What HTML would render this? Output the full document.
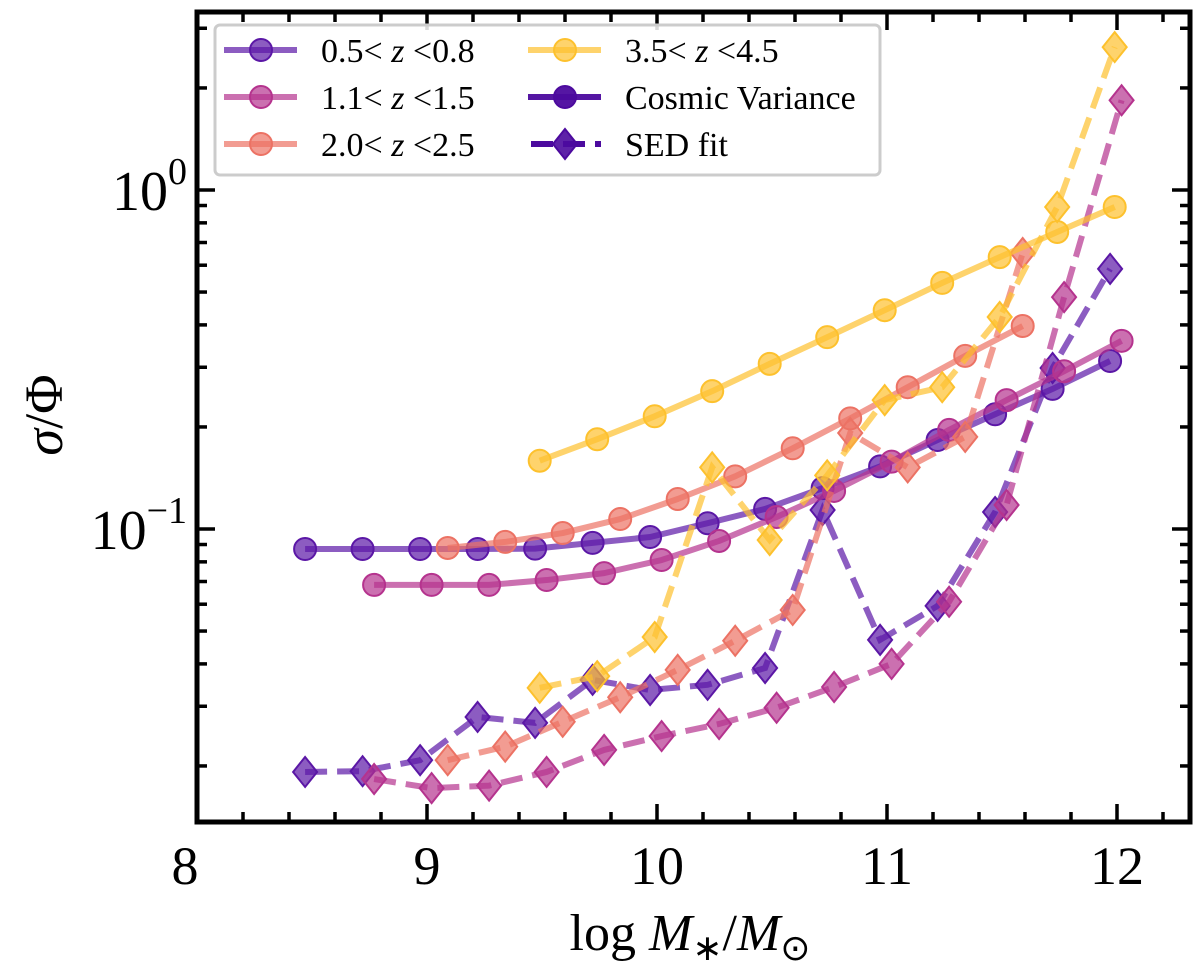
<!DOCTYPE html>
<html><head><meta charset="utf-8"><style>
body{margin:0;background:#fff;}
svg{display:block;font-family:"Liberation Serif",serif;}
</style></head><body>
<svg id="chart" width="1200" height="961" viewBox="0 0 1200 961" xmlns="http://www.w3.org/2000/svg">
<g id="marks"></g>
<g id="axes"></g>
<g id="legend"></g>
<text x="690" y="950" font-size="52" text-anchor="middle">log <tspan font-style="italic">M</tspan><tspan font-size="36" dy="10">∗</tspan><tspan dy="-10">/</tspan><tspan font-style="italic">M</tspan><tspan font-size="36" dy="10">⊙</tspan></text>
<text transform="translate(62,415) rotate(-90)" font-size="54" text-anchor="middle"><tspan font-style="italic">σ</tspan>/Φ</text>
</svg>
<script>
const cvX_z05 = [8.47,8.72,8.97,9.22,9.47,9.72,9.97,10.22,10.47,10.72,10.97,11.22,11.47,11.72,11.97];
const cvY_z05 = [0.0873,0.0873,0.0873,0.0873,0.0875,0.091,0.0947,0.104,0.1146,0.132,0.153,0.183,0.218,0.259,0.313];
const cvX_z11 = [8.77,9.02,9.27,9.52,9.77,10.02,10.27,10.52,10.77,11.02,11.27,11.52,11.77,12.02];
const cvY_z11 = [0.0684,0.0684,0.0684,0.0707,0.0741,0.081,0.0922,0.1085,0.1295,0.158,0.196,0.240,0.292,0.359];
const cvX_z20 = [9.09,9.34,9.59,9.84,10.09,10.34,10.59,10.84,11.09,11.34,11.59];
const cvY_z20 = [0.0879,0.0916,0.0973,0.107,0.1226,0.143,0.173,0.212,0.262,0.324,0.397];
const cvX_z35 = [9.49,9.74,9.99,10.24,10.49,10.74,10.99,11.24,11.49,11.74,11.99];
const cvY_z35 = [0.159,0.184,0.215,0.255,0.307,0.368,0.442,0.532,0.634,0.752,0.891];
const sedY_z05 = [0.0192,0.0193,0.0208,0.0279,0.0268,0.0359,0.0335,0.0347,0.0389,0.1138,0.0471,0.0593,0.1122,0.2985,0.585];
const sedY_z11 = [0.0183,0.0172,0.0175,0.0192,0.0223,0.0245,0.0266,0.0297,0.0342,0.040,0.061,0.1177,0.483,1.84];
const sedY_z20 = [0.0208,0.0228,0.027,0.0319,0.0384,0.0468,0.0577,0.192,0.152,0.187,0.652];
const sedY_z35 = [0.034,0.0368,0.048,0.152,0.0928,0.144,0.240,0.262,0.422,0.891,2.64];
const xTicks = [8,9,10,11,12];
const legendLabels = ["0.5< z <0.8","1.1< z <1.5","2.0< z <2.5","3.5< z <4.5","Cosmic Variance","SED fit"];

const NS="http://www.w3.org/2000/svg";
const L=197,R=1190,T=12,B=822;
function sx(v){return L+(v-8)*230;}
function sy(v){return 190-Math.log10(v)*339;}
function mk(tag,attrs,parent){const e=document.createElementNS(NS,tag);for(const k in attrs)e.setAttribute(k,attrs[k]);parent.appendChild(e);return e;}

const marks=document.getElementById('marks');
const series=[
 {name:'z05',x:cvX_z05,cv:cvY_z05,sed:sedY_z05,col:'#5b17a6'},
 {name:'z11',x:cvX_z11,cv:cvY_z11,sed:sedY_z11,col:'#b5338e'},
 {name:'z20',x:cvX_z20,cv:cvY_z20,sed:sedY_z20,col:'#ec7264'},
 {name:'z35',x:cvX_z35,cv:cvY_z35,sed:sedY_z35,col:'#fdc12d'}
];
series.forEach(s=>{
 const g=mk('g',{},marks);
 
 
 const cvPts=s.x.map((x,i)=>sx(x)+','+sy(s.cv[i])).join(' ');
 const l1=mk('polyline',{points:cvPts,fill:'none',stroke:s.col,'stroke-width':6,'stroke-opacity':0.7,'stroke-linejoin':'round'},g);
 
 
 s.x.forEach((x,i)=>{
  const c=mk('circle',{cx:sx(x),cy:sy(s.cv[i]),r:11,fill:s.col,'fill-opacity':0.7,stroke:s.col,'stroke-width':2},g);
  
  
 });
 const sedPts=s.x.map((x,i)=>sx(x)+','+sy(s.sed[i])).join(' ');
 const l2=mk('polyline',{points:sedPts,fill:'none',stroke:s.col,'stroke-width':6,'stroke-opacity':0.7,'stroke-dasharray':'22 10'},g);
 
 
 s.x.forEach((x,i)=>{
  const cx=sx(x),cy=sy(s.sed[i]),d=15;
  const p=mk('polygon',{points:`${cx},${cy-d} ${cx+d*0.8},${cy} ${cx},${cy+d} ${cx-d*0.8},${cy}`,fill:s.col,'fill-opacity':0.7,stroke:s.col,'stroke-width':2},g);
  
  
 });
});

const ax=document.getElementById('axes');
const fr=mk('rect',{x:L,y:T,width:R-L,height:B-T,fill:'none',stroke:'#000','stroke-width':5},ax);


for(let v=8;v<=12.31;v+=0.2){
 const vv=Math.round(v*10)/10;const x=sx(vv);
 if(x<L+1||x>R-1)continue;
 const major=Math.abs(vv-Math.round(vv))<1e-6;
 const len=major?18:10;
 mk('line',{x1:x,y1:B,x2:x,y2:B-len,stroke:'#000','stroke-width':3.5},ax);
 mk('line',{x1:x,y1:T,x2:x,y2:T+len,stroke:'#000','stroke-width':3.5},ax);
}
xTicks.forEach(v=>{
 const t=mk('text',{x:sx(v)-(v===8?12:0),y:B+62,'font-size':54,'text-anchor':'middle'},ax);
 t.textContent=v;
 
 
});
for(let e=-2;e<=0;e++){
 for(let m=1;m<10;m++){
  const v=m*Math.pow(10,e);const y=sy(v);
  if(y<T+1||y>B-1)continue;
  const len=m===1?18:10;
  mk('line',{x1:L,y1:y,x2:L+len,y2:y,stroke:'#000','stroke-width':3.5},ax);
  mk('line',{x1:R,y1:y,x2:R-len,y2:y,stroke:'#000','stroke-width':3.5},ax);
 }
}
[[0,'0'],[-1,'−1']].forEach(([e,lab])=>{
 const t=mk('text',{x:L-10,y:sy(Math.pow(10,e))+20,'font-size':56,'text-anchor':'end'},ax);
 t.innerHTML='10<tspan font-size="38" dy="-26">'+lab+'</tspan>';
 
 
});

const lg=document.getElementById('legend');
const box=mk('rect',{x:215,y:25,width:665,height:150,rx:5,fill:'#fff','fill-opacity':0.85,stroke:'#ccc','stroke-width':3},lg);


const legRows=[50,97,144];
const entries=[
 {c:series[0].col,t:'c',col:0,row:0},{c:series[1].col,t:'c',col:0,row:1},{c:series[2].col,t:'c',col:0,row:2},
 {c:series[3].col,t:'c',col:1,row:0},{c:'#4c0a9e',t:'c',col:1,row:1,solid:true},{c:'#4c0a9e',t:'d',col:1,row:2,solid:true}
];
entries.forEach((en,i)=>{
 const g=mk('g',{},lg);
 
 
 const x0=en.col?528:224,y=legRows[en.row];
 const op=en.solid?0.95:0.7;
 if(en.t==='c'){
  mk('line',{x1:x0,y1:y,x2:x0+73,y2:y,stroke:en.c,'stroke-width':6,'stroke-opacity':op},g);
  mk('circle',{cx:x0+37,cy:y,r:11,fill:en.c,'fill-opacity':op,stroke:en.c,'stroke-width':2},g);
 } else {
  mk('line',{x1:x0+3,y1:y,x2:x0+73,y2:y,stroke:en.c,'stroke-width':6,'stroke-dasharray':'22 10'},g);
  const cx=x0+37,d=15;
  mk('polygon',{points:`${cx},${y-d} ${cx+d*0.8},${y} ${cx},${y+d} ${cx-d*0.8},${y}`,fill:en.c,'fill-opacity':0.9,stroke:en.c,'stroke-width':2},g);
 }
 const t=mk('text',{x:x0+97,y:y+12,'font-size':34},g);
 const lab=legendLabels[i];
 if(lab.indexOf(' z ')>=0){const p=lab.split(' z ');t.innerHTML=p[0]+' <tspan font-style="italic">z</tspan> '+p[1];}
 else t.textContent=lab;
});
</script>
</body></html>
